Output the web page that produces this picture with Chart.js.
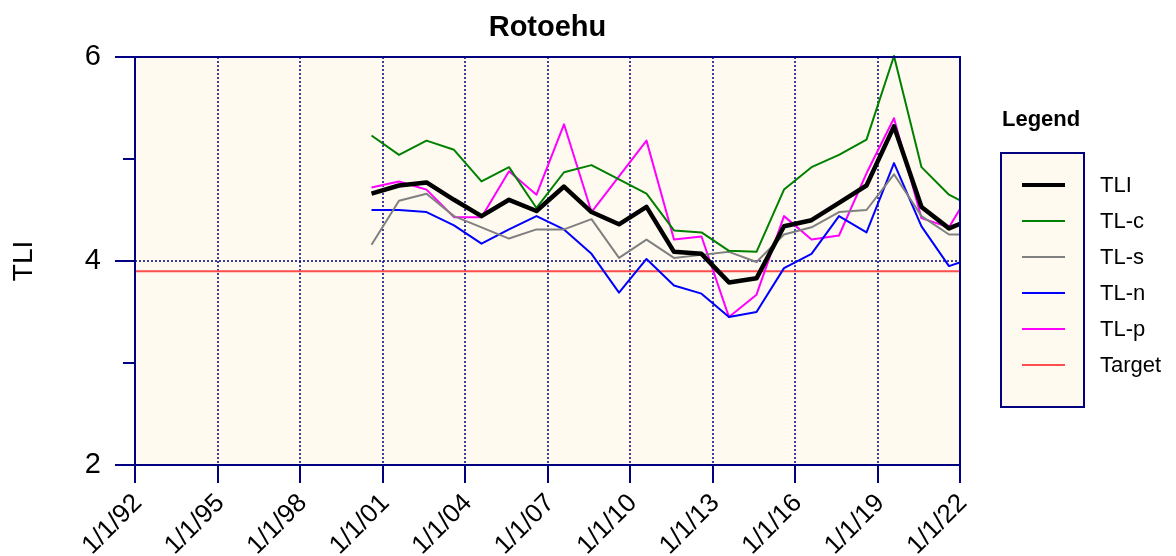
<!DOCTYPE html>
<html>
<head>
<meta charset="utf-8">
<script src="https://cdn.jsdelivr.net/npm/chart.js@4"></script>
<style>
  html, body { margin: 0; padding: 0; background: #ffffff; }
  #wrap { width: 1176px; height: 556px; position: relative; }
</style>
</head>
<body>
<div id="wrap"><canvas id="myChart"></canvas></div>
<script>
// annual survey points (decimal year)
const years = [2000.6, 2001.6, 2002.6, 2003.6, 2004.6, 2005.6, 2006.6, 2007.6, 2008.6, 2009.6, 2010.6,
    2011.6, 2012.6, 2013.6, 2014.6, 2015.6, 2016.6, 2017.6, 2018.6, 2019.6, 2020.6, 2021.6, 2022.6];

const tli = [4.66, 4.74, 4.77, 4.60, 4.44, 4.60, 4.49, 4.73, 4.48, 4.36, 4.53,
    4.09, 4.07, 3.79, 3.83, 4.34, 4.40, 4.57, 4.74, 5.32, 4.53, 4.32, 4.43];
const tlc = [5.23, 5.04, 5.18, 5.09, 4.78, 4.92, 4.52, 4.87, 4.94, 4.80, 4.66,
    4.30, 4.28, 4.10, 4.09, 4.70, 4.92, 5.04, 5.19, 6.01, 4.92, 4.65, 4.51];
const tls = [4.16, 4.59, 4.66, 4.44, 4.33, 4.22, 4.31, 4.31, 4.41, 4.03, 4.21,
    4.03, 4.06, 4.09, 3.99, 4.26, 4.33, 4.48, 4.50, 4.85, 4.44, 4.26, 4.26];
const tln = [4.50, 4.50, 4.48, 4.35, 4.17, 4.31, 4.44, 4.31, 4.07, 3.69, 4.02,
    3.76, 3.68, 3.45, 3.50, 3.93, 4.07, 4.44, 4.28, 4.96, 4.34, 3.95, 4.04];
const tlp = [4.72, 4.78, 4.70, 4.43, 4.43, 4.88, 4.65, 5.34, 4.48, 4.83, 5.18,
    4.21, 4.24, 3.45, 3.67, 4.44, 4.21, 4.25, 4.86, 5.40, 4.42, 4.33, 4.78];

const targetYears = [1992, 2022];
const targetValue = [3.9, 3.9];
const refLine = 4;

const xTickLabels = ['1/1/92', '1/1/95', '1/1/98', '1/1/01', '1/1/04', '1/1/07',
    '1/1/10', '1/1/13', '1/1/16', '1/1/19', '1/1/22'];
const yTickLabels = ['2', '', '4', '', '6'];

const navy = '#000080';
const plotBg = '#fefaef';
const font = "'Liberation Sans', Arial, sans-serif";

function pts(xs, ys) {
    return xs.map((x, i) => ({x: x, y: ys[i]}));
}

const clipArea = {left: 0, right: 0, top: 3, bottom: 0};

const info = {
    datasets: [
        {label: 'TLI', data: pts(years, tli), borderColor: '#000000', borderWidth: 4.5},
        {label: 'TL-c', data: pts(years, tlc), borderColor: '#008000', borderWidth: 2},
        {label: 'TL-s', data: pts(years, tls), borderColor: '#808080', borderWidth: 2},
        {label: 'TL-n', data: pts(years, tln), borderColor: '#0000ff', borderWidth: 2},
        {label: 'TL-p', data: pts(years, tlp), borderColor: '#ff00ff', borderWidth: 2},
        {label: 'Target', data: pts(targetYears, targetValue), borderColor: '#ff4d4d', borderWidth: 2},
    ].map(d => Object.assign(d, {
        pointRadius: 0, tension: 0, fill: false, clip: clipArea,
        borderJoinStyle: 'round', order: 0
    }))
};
// draw Target underneath the others
info.datasets[5].order = 10;
info.datasets[0].order = -1;

// background, dotted grid, axis frame, tick marks and legend box
const frame = {
    id: 'frame',
    beforeDatasetsDraw(chart) {
        const {ctx, chartArea: a, scales: {x, y}} = chart;
        ctx.save();
        ctx.fillStyle = plotBg;
        ctx.fillRect(a.left, a.top, a.right - a.left, a.bottom - a.top);
        ctx.strokeStyle = navy;
        ctx.lineWidth = 1.5;
        ctx.setLineDash([2, 2]);
        x.ticks.forEach(t => {
            const px = Math.round(x.getPixelForValue(t.value));
            ctx.beginPath();
            ctx.moveTo(px, a.top);
            ctx.lineTo(px, a.bottom);
            ctx.stroke();
        });
        const py = Math.round(y.getPixelForValue(refLine));
        ctx.beginPath();
        ctx.moveTo(a.left, py);
        ctx.lineTo(a.right, py);
        ctx.stroke();
        ctx.restore();
    },
    afterDatasetsDraw(chart) {
        const {ctx, chartArea: a, scales: {x, y}} = chart;
        ctx.save();
        ctx.strokeStyle = navy;
        ctx.lineWidth = 2;
        ctx.strokeRect(a.left, a.top, a.right - a.left, a.bottom - a.top);
        x.ticks.forEach(t => {
            const px = Math.round(x.getPixelForValue(t.value));
            ctx.beginPath();
            ctx.moveTo(px, a.bottom);
            ctx.lineTo(px, a.bottom + 18);
            ctx.stroke();
        });
        y.ticks.forEach(t => {
            const py = Math.round(y.getPixelForValue(t.value));
            const len = t.value % 2 === 0 ? 20 : 12;
            ctx.beginPath();
            ctx.moveTo(a.left, py);
            ctx.lineTo(a.left - len, py);
            ctx.stroke();
        });
        ctx.restore();
    },
    afterDraw(chart) {
        const ctx = chart.ctx;
        ctx.save();
        ctx.fillStyle = '#000000';
        ctx.font = 'bold 22px ' + font;
        ctx.textBaseline = 'alphabetic';
        ctx.textAlign = 'left';
        ctx.fillText('Legend', 1002, 126);

        ctx.fillStyle = plotBg;
        ctx.fillRect(1001, 153, 83, 254);
        ctx.strokeStyle = navy;
        ctx.lineWidth = 2;
        ctx.strokeRect(1001, 153, 83, 254);

        ctx.font = '22px ' + font;
        ctx.textBaseline = 'middle';
        chart.data.datasets.forEach((ds, i) => {
            const ly = 185 + i * 36;
            ctx.strokeStyle = ds.borderColor;
            ctx.lineWidth = i === 0 ? 4 : 2;
            ctx.beginPath();
            ctx.moveTo(1022, ly);
            ctx.lineTo(1065, ly);
            ctx.stroke();
            ctx.fillStyle = '#000000';
            ctx.fillText(ds.label, 1100, ly + 1);
        });
        ctx.restore();
    }
};

const config = {
    type: 'line',
    data: info,
    options: {
        responsive: true,
        maintainAspectRatio: false,
        animation: false,
        layout: {
            padding: {left: 0, right: 216, top: 0, bottom: 0}
        },
        scales: {
            x: {
                type: 'linear',
                min: 1992,
                max: 2022,
                grid: {display: false, drawTicks: false},
                border: {display: false},
                ticks: {
                    stepSize: 3,
                    autoSkip: false,
                    minRotation: 45,
                    maxRotation: 45,
                    padding: 23,
                    labelOffset: 3,
                    color: '#000000',
                    font: {family: font, size: 26},
                    callback: (v) => xTickLabels[Math.round((v - 1992) / 3)]
                },
                afterFit: (s) => { s.height = 91; }
            },
            y: {
                min: 2,
                max: 6,
                grid: {display: false, drawTicks: false},
                border: {display: false},
                ticks: {
                    stepSize: 1,
                    padding: 34,
                    color: '#000000',
                    font: {family: font, size: 29},
                    callback: (v) => yTickLabels[Math.round(v - 2)]
                },
                title: {
                    display: true,
                    text: 'TLI',
                    color: '#000000',
                    font: {family: font, size: 28},
                    padding: {top: 7, bottom: 0}
                },
                afterFit: (s) => { s.width = 135; }
            }
        },
        plugins: {
            legend: {display: false},
            tooltip: {enabled: false},
            title: {
                display: true,
                text: 'Rotoehu',
                fullSize: false,
                color: '#000000',
                font: {family: font, size: 29, weight: 'bold', lineHeight: 1.2},
                padding: {top: 11, bottom: 11.2}
            }
        }
    },
    plugins: [frame]
};

const myChart = new Chart(
    document.getElementById('myChart'),
    config
);
</script>
</body>
</html>
